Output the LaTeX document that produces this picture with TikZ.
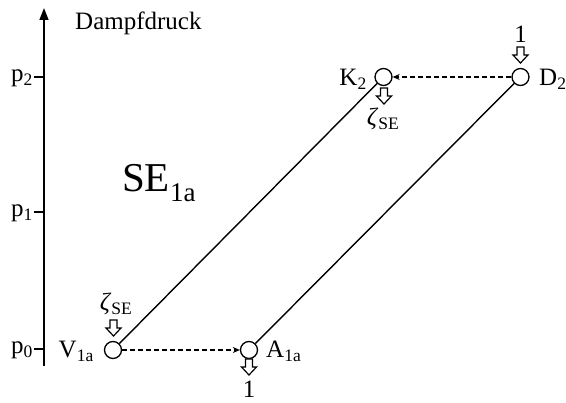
\documentclass[tikz,border=0pt]{standalone}
\usepackage{fontspec}
\setmainfont{Liberation Serif}
\usetikzlibrary{arrows.meta}
\tikzset{
  state/.style={circle,draw,line width=1.3pt,minimum size=17pt,inner sep=0pt,fill=white},
  lbl/.style={font=\fontsize{25}{28}\selectfont,inner sep=0pt},
  flow/.style={dashed,dash pattern=on 5pt off 3pt,line width=1.3pt,-{Stealth[length=7pt,width=6pt]}},
  link/.style={line width=1.4pt},
  axis/.style={line width=1.7pt,-{Triangle[length=12pt,width=9pt]}},
  tick/.style={line width=1.5pt},
  hollow/.pic={\draw[line width=1.2pt,fill=white] (-3.5,0) -- (3.5,0) -- (3.5,8) -- (7.5,8) -- (0,16) -- (-7.5,8) -- (-3.5,8) -- cycle;}
}
\newcommand\zse{\textit{ζ}\textsubscript{SE}}
\begin{document}
\begin{tikzpicture}[x=1pt,y=-1pt]
\useasboundingbox (0,0) rectangle (566,403);
% axis
\coordinate (ab) at (44,366);
\coordinate (at) at (44,8);
\draw[axis] (ab) -- (at);
\node[lbl,anchor=base west] (title) at (75,30) {Dampfdruck};
\coordinate (t2) at (34,77); \coordinate (t2e) at (44,77);
\coordinate (t1) at (34,212); \coordinate (t1e) at (44,212);
\coordinate (t0) at (34,349); \coordinate (t0e) at (44,349);
\draw[tick] (t2) -- (t2e);
\draw[tick] (t1) -- (t1e);
\draw[tick] (t0) -- (t0e);
\node[lbl,anchor=base east] (p2) at (33,82) {p\textsubscript{2}};
\node[lbl,anchor=base east] (p1) at (33,217) {p\textsubscript{1}};
\node[lbl,anchor=base east] (p0) at (33,354) {p\textsubscript{0}};
% region label
\node[font=\fontsize{41}{44}\selectfont,inner sep=0pt,anchor=base west] (se) at (122,192) {SE\textsubscript{\fontsize{27}{28}\selectfont 1a}};
% states
\node[state] (V) at (113,350) {};
\node[state] (A) at (249,350) {};
\node[state] (K) at (383.5,77) {};
\node[state] (D) at (520.5,77) {};
\node[lbl,anchor=base east] (Vl) at (94,358) {V\textsubscript{1a}};
\node[lbl,anchor=base west] (Al) at (266,358) {A\textsubscript{1a}};
\node[lbl,anchor=base east] (Kl) at (367,86) {K\textsubscript{2}};
\node[lbl,anchor=base west] (Dl) at (539,86) {D\textsubscript{2}};
% connectors
\draw[link] (V) -- (K);
\draw[link] (A) -- (D);
\draw[flow] (V) -- (A);
\draw[flow] (D) -- (K);
% inputs/outputs
\pic at (520.5,47) {hollow};
\node[lbl,anchor=base] (d1) at (520.5,43) {1};
\pic at (384,88) {hollow};
\node[lbl,anchor=base] (kz) at (383,126) {\zse};
\pic at (113.5,320) {hollow};
\node[lbl,anchor=base] (vz) at (116,311) {\zse};
\pic at (249,359) {hollow};
\node[lbl,anchor=base] (a1) at (249,398) {1};
\end{tikzpicture}
\end{document}
